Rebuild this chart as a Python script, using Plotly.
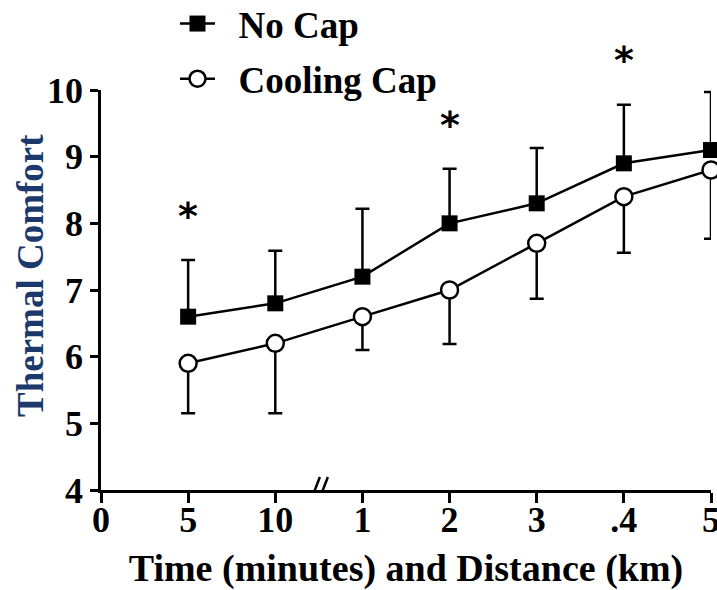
import plotly.graph_objects as go

# ---- data ----
tick_labels = ["0", "5", "10", "1", "2", "3", ".4", "5"]
no_cap_mean = [6.6, 6.8, 7.2, 8.0, 8.3, 8.9, 9.1]
no_cap_err = [0.85, 0.79, 1.02, 0.82, 0.83, 0.88, 0.87]
cool_cap_mean = [5.9, 6.2, 6.6, 7.0, 7.7, 8.4, 8.8]
cool_cap_err = [0.75, 1.05, 0.5, 0.81, 0.83, 0.84, 1.03]
star_idx = [1, 4, 6]
star_y = [8.15, 9.52, 10.5]
y_ticks = [4, 5, 6, 7, 8, 9, 10]

tick_pos = list(range(len(tick_labels)))
data_pos = tick_pos[1:]
break_pos = 2.5
zeros = [0] * len(data_pos)
y_min, y_max = y_ticks[0], y_ticks[-1]

FONT = "Liberation Serif"
NBSP = "\u00a0"
fig = go.Figure()

fig.add_trace(go.Scatter(
    x=data_pos, y=no_cap_mean, name=NBSP * 2 + "No Cap", mode="lines+markers",
    legendgroup="a",
    line=dict(color="black", width=2.5),
    marker=dict(symbol="square", size=16, color="black"),
    error_y=dict(type="data", symmetric=False, array=no_cap_err, arrayminus=zeros,
                 color="black", thickness=2.5, width=7),
    cliponaxis=False,
))
fig.add_trace(go.Scatter(
    x=data_pos, y=cool_cap_mean, name=NBSP * 2 + "Cooling Cap", mode="lines+markers",
    legendgroup="b",
    line=dict(color="black", width=2.5),
    marker=dict(symbol="circle", size=17, color="white", line=dict(color="black", width=2.5)),
    error_y=dict(type="data", symmetric=False, array=zeros, arrayminus=cool_cap_err,
                 color="black", thickness=2.5, width=7),
    cliponaxis=False,
))

# significance stars (y converted to paper fraction so the one above the range still shows)
for i, yv in zip(star_idx, star_y):
    fig.add_annotation(x=data_pos[i - 1], y=(yv - y_min) / (y_max - y_min),
                       xref="x", yref="paper", text="*",
                       xanchor="center", yanchor="middle",
                       showarrow=False, yshift=-3,
                       font=dict(family="DejaVu Sans", size=38, color="black", weight="bold"))

# y-axis title
fig.add_annotation(x=-0.1164, y=0.5375, xref="paper", yref="paper", text="Thermal Comfort",
                   textangle=-90, showarrow=False, xanchor="center", yanchor="middle",
                   font=dict(family=FONT, size=37, color="#1b3a6b", weight="bold"))

# axis break marks "//"
for dx in (-4, 4):
    fig.add_shape(type="line", xref="x", yref="y",
                  xsizemode="pixel", ysizemode="pixel",
                  xanchor=break_pos, yanchor=y_min,
                  x0=dx - 5, x1=dx + 5, y0=-13, y1=13,
                  line=dict(color="black", width=2.5))

fig.update_xaxes(
    range=[tick_pos[0], tick_pos[-1]], tickmode="array", tickvals=tick_pos, ticktext=tick_labels,
    showline=True, linecolor="black", linewidth=2.5, ticks="outside", ticklen=10,
    tickwidth=2.5, tickcolor="black", showgrid=False, zeroline=False, automargin=False,
    ticklabeloverflow="allow", ticklabelstandoff=-14,
    tickfont=dict(family=FONT, size=36, color="black", weight="bold"),
    title=dict(text="Time (minutes) and Distance (km)", standoff=38,
               font=dict(family=FONT, size=38, color="black", weight="bold")),
)
fig.update_yaxes(
    range=[y_min, y_max], tickmode="array", tickvals=y_ticks,
    showline=True, linecolor="black", linewidth=2.5, ticks="outside", ticklen=8,
    tickwidth=2.5, tickcolor="black", showgrid=False, zeroline=False, automargin=False,
    tickfont=dict(family=FONT, size=36, color="black", weight="bold"),
)

fig.update_layout(
    width=717, height=590,
    margin=dict(l=101, r=6, t=90, b=100, autoexpand=False),
    plot_bgcolor="white", paper_bgcolor="white",
    showlegend=True,
    legend=dict(x=0.1213, y=1.2425, xanchor="left", yanchor="top",
                font=dict(family=FONT, size=37, color="black", weight="bold"),
                tracegroupgap=4, bgcolor="rgba(0,0,0,0)", itemwidth=35),
)

fig.write_html("out.html", config={"displayModeBar": False},
               post_script="document.body.style.margin='0';")
